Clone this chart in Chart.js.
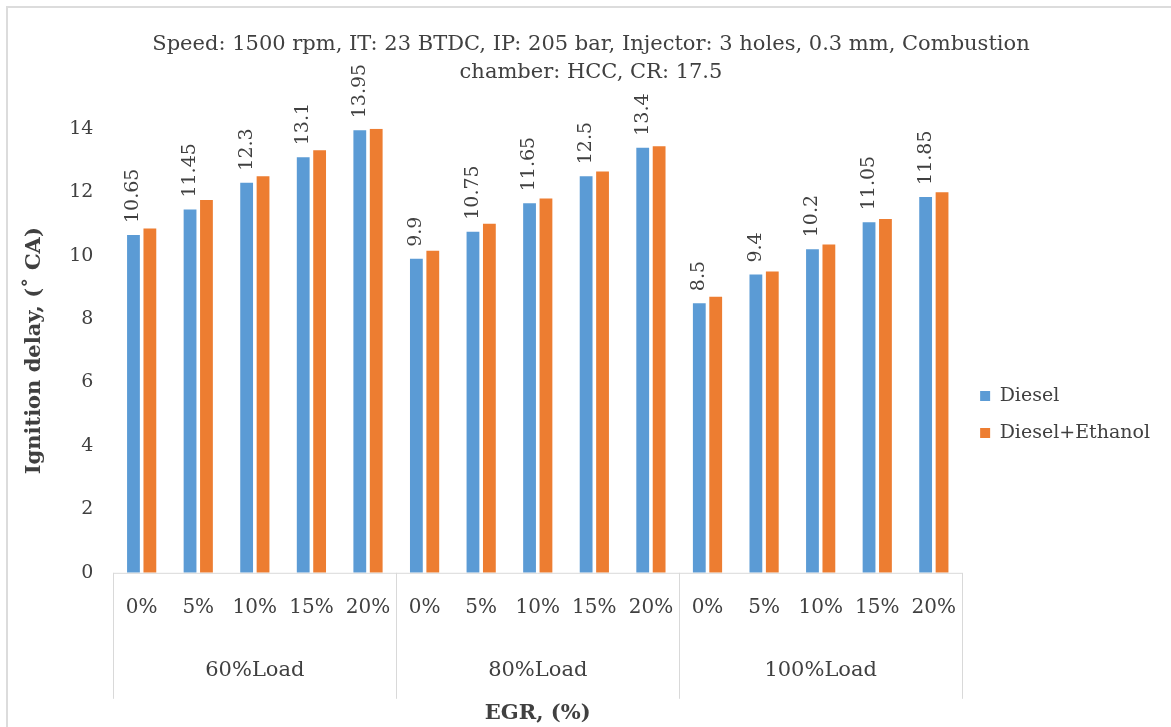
<!DOCTYPE html>
<html>
<head>
<meta charset="utf-8">
<script src="https://cdn.jsdelivr.net/npm/chart.js@4"></script>
<style>
  body { margin: 0; background: #fff; overflow: hidden; }
  #wrap { position: relative; width: 1171px; height: 727px; }
  #frame { position: absolute; left: 6px; top: 6px; right: 0; bottom: 0; border-top: 2px solid #dcdcdc; border-left: 2px solid #dcdcdc; pointer-events: none; }
</style>
</head>
<body>
<div id="wrap">
  <canvas id="myBarChart" width="1171" height="727"></canvas>
  <div id="frame"></div>
</div>
<script>
// data
var egrLabels = ['0%', '5%', '10%', '15%', '20%', '0%', '5%', '10%', '15%', '20%', '0%', '5%', '10%', '15%', '20%'];
var loadLabels = ['60%Load', '80%Load', '100%Load'];
var diesel = [10.65, 11.45, 12.3, 13.1, 13.95, 9.9, 10.75, 11.65, 12.5, 13.4, 8.5, 9.4, 10.2, 11.05, 11.85];
var dieselEthanol = [10.85, 11.75, 12.5, 13.32, 14.0, 10.15, 11.0, 11.8, 12.65, 13.45, 8.7, 9.5, 10.35, 11.15, 12.0];
var yTicks = [0, 2, 4, 6, 8, 10, 12, 14];

var textColor = '#404040';
var serif = "'DejaVu Serif', 'Liberation Serif', serif";

// value labels above the Diesel bars, rotated like in Excel
var valueLabels = {
    id: 'valueLabels',
    afterDatasetsDraw: function(chart) {
        var ctx = chart.ctx;
        var meta = chart.getDatasetMeta(0);
        ctx.save();
        ctx.fillStyle = textColor;
        ctx.font = '19px ' + serif;
        ctx.textAlign = 'left';
        ctx.textBaseline = 'middle';
        meta.data.forEach(function(bar, i) {
            ctx.save();
            ctx.translate(bar.x, bar.y - 12);
            ctx.rotate(-Math.PI / 2);
            ctx.fillText(String(diesel[i]), 0, 0);
            ctx.restore();
        });
        ctx.restore();
    }
};

// separators between the load groups under the axis
var groupLines = {
    id: 'groupLines',
    afterDraw: function(chart) {
        var ctx = chart.ctx;
        var area = chart.chartArea;
        var step = (area.right - area.left) / egrLabels.length;
        ctx.save();
        ctx.strokeStyle = '#d9d9d9';
        ctx.lineWidth = 1;
        ctx.beginPath();
        ctx.moveTo(area.left, area.bottom + 0.5);
        ctx.lineTo(area.right, area.bottom + 0.5);
        for (var g = 0; g <= loadLabels.length; g++) {
            var px = Math.round(area.left + g * 5 * step) + 0.5;
            ctx.moveTo(px, area.bottom);
            ctx.lineTo(px, area.bottom + 126);
        }
        ctx.stroke();
        ctx.restore();
    }
};

var ctx = document.getElementById('myBarChart').getContext('2d');
var myChart = new Chart(ctx, {
    type: 'bar',
    data: {
        labels: egrLabels,
        datasets: [{
            label: 'Diesel',
            data: diesel,
            backgroundColor: '#5B9BD5'
        }, {
            label: 'Diesel+Ethanol',
            data: dieselEthanol,
            backgroundColor: '#ED7D31'
        }]
    },
    options: {
        responsive: false,
        animation: false,
        categoryPercentage: 0.58,
        barPercentage: 0.78,
        layout: {
            padding: { left: 22, right: 11, bottom: 3 }
        },
        plugins: {
            title: {
                display: true,
                text: ['Speed: 1500 rpm, IT: 23 BTDC, IP: 205 bar, Injector: 3 holes, 0.3 mm, Combustion', 'chamber: HCC, CR: 17.5'],
                color: textColor,
                font: { family: serif, size: 21, weight: 'normal', lineHeight: 1.35 },
                padding: { top: 30, bottom: 42 }
            },
            legend: {
                position: 'right',
                title: {
                    display: true,
                    text: ' ',
                    font: { size: 1 },
                    padding: { top: 104, bottom: 0 }
                },
                labels: {
                    color: textColor,
                    font: { family: serif, size: 19 },
                    boxWidth: 10,
                    boxHeight: 10,
                    padding: 18
                }
            },
            tooltip: { enabled: false }
        },
        scales: {
            x: {
                grid: { display: false, drawTicks: false },
                border: { display: false },
                ticks: {
                    color: textColor,
                    font: { family: serif, size: 20 },
                    padding: 23,
                    maxRotation: 0,
                    autoSkip: false
                }
            },
            x2: {
                type: 'category',
                labels: loadLabels,
                position: 'bottom',
                grid: { display: false, drawTicks: false },
                border: { display: false },
                ticks: {
                    color: textColor,
                    font: { family: serif, size: 21 },
                    padding: 15
                },
                title: {
                    display: true,
                    text: 'EGR, (%)',
                    color: textColor,
                    font: { family: serif, size: 21, weight: 'bold', lineHeight: 1 },
                    padding: { top: 5, bottom: 0 }
                }
            },
            y: {
                min: 0,
                max: 14,
                afterBuildTicks: function(axis) {
                    axis.ticks = yTicks.map(function(v) { return { value: v }; });
                },
                grid: { display: false, drawTicks: false },
                border: { display: false },
                ticks: {
                    color: textColor,
                    font: { family: serif, size: 19 },
                    padding: 20
                },
                title: {
                    display: true,
                    text: 'Ignition delay, (˚ CA)',
                    color: textColor,
                    font: { family: serif, size: 21, weight: 'bold' },
                    padding: { top: 0, bottom: 2 }
                }
            }
        }
    },
    plugins: [valueLabels, groupLines]
});
</script>
</body>
</html>
